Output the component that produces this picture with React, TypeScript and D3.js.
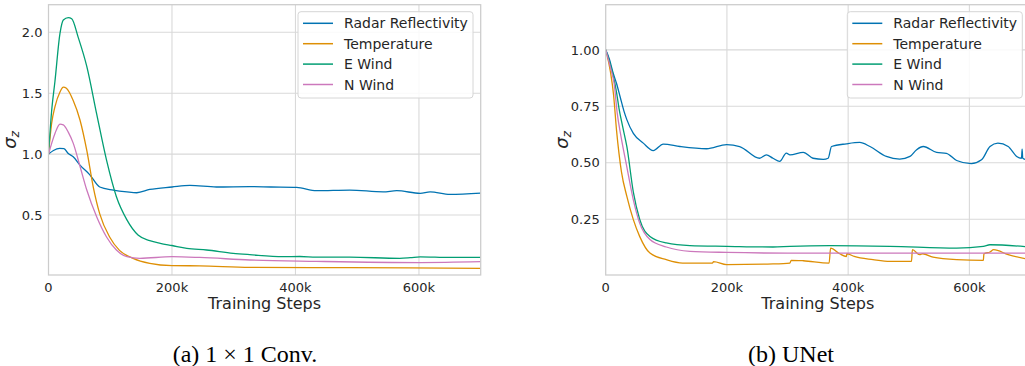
import * as d3 from 'd3';

type Pt = [number, number];

// steps in thousands, sigma_z values
const seriesNames = ['Radar Reflectivity', 'Temperature', 'E Wind', 'N Wind'];
const seriesColors = ['#0173b2', '#de8f05', '#029e73', '#cc78bc'];

const convRadar: Pt[] = [
  [0, 1.0], [8, 1.03], [18, 1.047], [25, 1.045], [32, 1.005], [40, 0.978], [51, 0.91], [67, 0.83],
  [83, 0.73], [105, 0.705], [127, 0.69], [143, 0.683], [164, 0.71], [200, 0.73], [229, 0.743],
  [272, 0.73], [326, 0.733], [360, 0.73], [402, 0.727], [434, 0.7], [488, 0.705], [542, 0.69],
  [564, 0.7], [602, 0.678], [618, 0.69], [650, 0.67], [700, 0.68],
];
const convTemp: Pt[] = [
  [0, 1.0], [5, 1.25], [10.5, 1.39], [18.6, 1.51], [24, 1.55], [29, 1.54], [40, 1.44], [51, 1.28],
  [62, 1.03], [72.5, 0.73], [83, 0.51], [99, 0.32], [115, 0.21], [137, 0.145], [164, 0.104],
  [200, 0.085], [245, 0.083], [326, 0.071], [488, 0.068], [700, 0.063],
];
const convE: Pt[] = [
  [0, 1.0], [5, 1.35], [10.5, 1.6], [18.6, 1.99], [24, 2.1], [32, 2.12], [37.6, 2.11], [48, 1.96],
  [62, 1.72], [78, 1.33], [94, 0.95], [110, 0.65], [127, 0.46], [145, 0.336], [164, 0.29],
  [181, 0.268], [200, 0.25], [224, 0.227], [256, 0.213], [299, 0.186], [326, 0.175], [380, 0.158],
  [407, 0.16], [434, 0.154], [488, 0.154], [569, 0.145], [586, 0.15], [602, 0.157], [650, 0.152],
  [700, 0.152],
];
const convN: Pt[] = [
  [0, 1.0], [10.5, 1.17], [18.6, 1.246], [24, 1.24], [32, 1.18], [40, 1.09], [51, 0.9], [62, 0.705],
  [78, 0.486], [94, 0.32], [110, 0.213], [127, 0.158], [148, 0.145], [200, 0.158], [245, 0.152],
  [326, 0.131], [434, 0.12], [602, 0.11], [700, 0.117],
];

const unetRadar: Pt[] = [
  [0, 1.0], [6, 0.96], [12, 0.9], [18, 0.85], [24, 0.79], [30, 0.73], [35, 0.69], [45.6, 0.63],
  [62, 0.587], [78.5, 0.554], [95, 0.583], [122.5, 0.572], [166.5, 0.562], [199.5, 0.58], [221, 0.572],
  [254, 0.52], [265, 0.535], [276, 0.52], [287, 0.506], [298, 0.543], [304, 0.535], [326, 0.546],
  [342, 0.52], [359, 0.515], [367, 0.52], [372.6, 0.572], [397, 0.584], [419, 0.59], [436, 0.572],
  [463, 0.528], [485, 0.516], [502, 0.528], [513, 0.558], [524, 0.572], [546, 0.546], [562, 0.542],
  [579, 0.51], [603, 0.496], [620, 0.513], [634, 0.572], [647, 0.587], [664, 0.572], [678, 0.528],
  [686, 0.52], [687, 0.56], [688, 0.52], [700, 0.51],
];
const unetTemp: Pt[] = [
  [0, 1.0], [8, 0.9], [13, 0.8], [18, 0.64], [26, 0.46], [35, 0.35], [45.6, 0.248], [56, 0.174],
  [73, 0.1], [100, 0.071], [127, 0.056], [176, 0.056], [178, 0.062], [199.5, 0.049], [276, 0.052],
  [304, 0.056], [306, 0.068], [326, 0.066], [368.6, 0.056], [371, 0.122], [386, 0.097], [397, 0.085],
  [398, 0.097], [410, 0.085], [441, 0.071], [469, 0.063], [504.5, 0.063], [506, 0.115], [518, 0.093],
  [523, 0.097], [540, 0.082], [579, 0.071], [623, 0.068], [624, 0.097], [634, 0.105], [640, 0.115],
  [664, 0.093], [700, 0.071],
];
const unetE: Pt[] = [
  [0, 1.0], [6, 0.95], [12, 0.89], [18, 0.81], [22, 0.74], [28, 0.66], [35, 0.57], [45.6, 0.37],
  [56, 0.25], [73, 0.174], [100, 0.145], [139, 0.133], [199.5, 0.13], [276, 0.127], [304, 0.13],
  [370, 0.133], [469, 0.13], [579, 0.122], [623, 0.13], [634, 0.137], [700, 0.127],
];
const unetN: Pt[] = [
  [0, 1.0], [8, 0.92], [14, 0.85], [19, 0.72], [25, 0.62], [35, 0.48], [45.6, 0.336], [56, 0.233],
  [73, 0.16], [100, 0.127], [139, 0.108], [199.5, 0.103], [300, 0.1], [700, 0.1],
];

const xTicks = [0, 200, 400, 600];
const convYTicks = [0.5, 1.0, 1.5, 2.0];
const unetYTicks = [0.25, 0.5, 0.75, 1.0];

const sans = 'DejaVu Sans, sans-serif';
const textColor = '#262626';

function Panel({
  left, right, top, bottom, yDomain, yTicks, yFmt, ylabelX, series, caption, captionX,
}: {
  left: number; right: number; top: number; bottom: number;
  yDomain: [number, number]; yTicks: number[]; yFmt: string; ylabelX: number;
  series: Pt[][]; caption: React.ReactNode; captionX: number;
}) {
  const x = d3.scaleLinear().domain([0, 700]).range([left, right]);
  const y = d3.scaleLinear().domain(yDomain).range([bottom, top]);
  const line = d3.line<Pt>().x((d) => x(d[0])).y((d) => y(d[1])).curve(d3.curveMonotoneX);
  const fmt = d3.format(yFmt);
  const clipId = `clip-${Math.round(left)}`;
  const lx = right - 182.7;
  const ly = 11.7;

  return (
    <g>
      <defs>
        <clipPath id={clipId}>
          <rect x={left} y={top} width={right - left} height={bottom - top} />
        </clipPath>
      </defs>
      {yTicks.map((t) => (
        <line key={`gy${t}`} x1={left} x2={right} y1={y(t)} y2={y(t)} stroke="#d9d9d9" strokeWidth={1.1} />
      ))}
      {xTicks.slice(1).map((t) => (
        <line key={`gx${t}`} x1={x(t)} x2={x(t)} y1={top} y2={bottom} stroke="#d9d9d9" strokeWidth={1.1} />
      ))}
      <g clipPath={`url(#${clipId})`}>
        {series.map((s, i) => (
          <path key={i} d={line(s) ?? ''} fill="none" stroke={seriesColors[i]} strokeWidth={1.3} />
        ))}
      </g>
      <rect x={left} y={top} width={right - left} height={bottom - top} fill="none" stroke="#cccccc" strokeWidth={1.25} />
      {yTicks.map((t) => (
        <text key={`ty${t}`} x={left - 6} y={y(t)} dy="0.36em" textAnchor="end" fontSize={13} fill={textColor} fontFamily={sans}>
          {fmt(t)}
        </text>
      ))}
      {xTicks.map((t) => (
        <text key={`tx${t}`} x={x(t)} y={291.5} textAnchor="middle" fontSize={13} fill={textColor} fontFamily={sans}>
          {t === 0 ? '0' : `${t}k`}
        </text>
      ))}
      <text x={(left + right) / 2} y={309} textAnchor="middle" fontSize={16} fill={textColor} fontFamily={sans}>
        Training Steps
      </text>
      <text
        transform={`translate(${ylabelX},${(top + bottom) / 2}) rotate(-90)`}
        textAnchor="middle" fontSize={18} fill={textColor} fontFamily={sans}
      >
        <tspan fontStyle="italic">σ</tspan>
        <tspan fontStyle="italic" fontSize={12.5} dy={3}>z</tspan>
      </text>
      <g>
        <rect x={lx} y={ly} width={175} height={86.3} rx={3} fill="#ffffff" fillOpacity={0.85} stroke="#d6d6d6" strokeWidth={1} />
        {seriesNames.map((n, i) => {
          const ry = ly + 11.6 + i * 20.4;
          return (
            <g key={n}>
              <line x1={lx + 5} x2={lx + 35} y1={ry} y2={ry} stroke={seriesColors[i]} strokeWidth={1.5} />
              <text x={lx + 46} y={ry} dy="0.36em" fontSize={14} fill={textColor} fontFamily={sans}>{n}</text>
            </g>
          );
        })}
      </g>
      <text x={captionX} y={361.5} textAnchor="middle" fontSize={24} fill="#000" fontFamily="Liberation Serif, Times New Roman, serif">
        {caption}
      </text>
    </g>
  );
}

export default function App() {
  return (
    <svg width={1025} height={366} style={{ position: 'absolute', left: 0, top: 0, background: '#fff' }}>
      <Panel
        left={48.5} right={480.7} top={4.7} bottom={275}
        yDomain={[0.008, 2.226]} yTicks={convYTicks} yFmt=".1f" ylabelX={15.5}
        series={[convRadar, convTemp, convE, convN]}
        caption={<>(a) 1 × 1 Conv.</>} captionX={245}
      />
      <Panel
        left={605.7} right={1030} top={4.7} bottom={275}
        yDomain={[0.003, 1.2]} yTicks={unetYTicks} yFmt=".2f" ylabelX={568}
        series={[unetRadar, unetTemp, unetE, unetN]}
        caption={<>(b) UNet</>} captionX={791}
      />
    </svg>
  );
}
